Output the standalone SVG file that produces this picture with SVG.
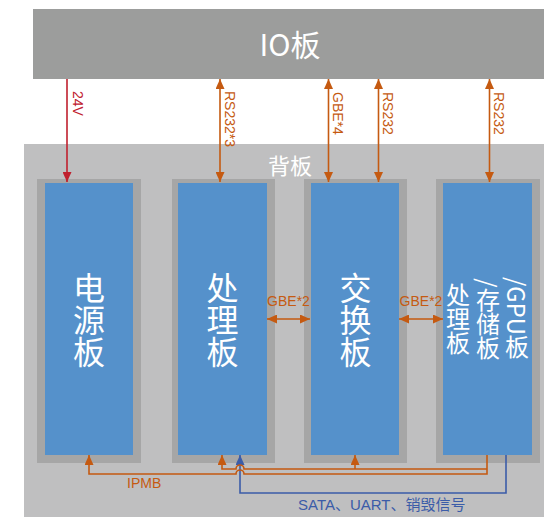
<svg xmlns="http://www.w3.org/2000/svg" width="544" height="520" viewBox="0 0 544 520">
<style>
.io{fill:#9c9d9c}
.bp{fill:#bfbfc0}
.frame{fill:#a6a6a6}
.card{fill:#5591cb}
.big{font-family:"Noto Sans CJK SC","Liberation Sans",sans-serif;fill:#ffffff}
.vt{writing-mode:vertical-rl;text-anchor:middle}
.lbl{font-family:"Liberation Sans","Noto Sans CJK SC",sans-serif;font-size:14px}
.o{stroke:#c55a11;stroke-width:1.6;fill:none}
.r{stroke:#c0202e;stroke-width:1.6;fill:none}
.b{stroke:#3b5ca8;stroke-width:1.6;fill:none}
</style>
<defs>
<marker id="ao" viewBox="0 0 10 9" refX="10" refY="4.5" markerWidth="10" markerHeight="9" markerUnits="userSpaceOnUse" orient="auto-start-reverse"><path d="M0,0 L10,4.5 L0,9 z" fill="#c55a11"/></marker>
<marker id="ar" viewBox="0 0 10 9" refX="10" refY="4.5" markerWidth="10" markerHeight="9" markerUnits="userSpaceOnUse" orient="auto-start-reverse"><path d="M0,0 L10,4.5 L0,9 z" fill="#c0202e"/></marker>
<marker id="ab" viewBox="0 0 10 9" refX="10" refY="4.5" markerWidth="10" markerHeight="9" markerUnits="userSpaceOnUse" orient="auto-start-reverse"><path d="M0,0 L10,4.5 L0,9 z" fill="#3b5ca8"/></marker>
</defs>
<rect width="544" height="520" fill="#ffffff"/>

<g id="io-board">
<rect class="io" x="33" y="9" width="511" height="70"/>
<text class="big" x="290" y="56" font-size="30" text-anchor="middle" font-family="Liberation Sans, Noto Sans CJK SC, sans-serif">IO板</text>
</g>

<g id="backplane">
<rect class="bp" x="24" y="144" width="520" height="373"/>
<text class="big" x="290" y="174" font-size="22" text-anchor="middle">背板</text>
</g>

<g id="power-board">
<rect class="frame" x="37" y="179" width="104" height="284"/>
<rect class="card" x="45" y="183" width="88" height="272"/>
<text class="big vt" x="89" y="320" font-size="32">电源板</text>
</g>

<g id="proc-board">
<rect class="frame" x="172" y="179" width="103" height="284"/>
<rect class="card" x="178" y="183" width="89" height="272"/>
<text class="big vt" x="222.5" y="320" font-size="32">处理板</text>
</g>

<g id="switch-board">
<rect class="frame" x="304" y="179" width="103" height="284"/>
<rect class="card" x="311" y="183" width="88" height="272"/>
<text class="big vt" x="355.5" y="320" font-size="32">交换板</text>
</g>

<g id="gpu-board">
<rect class="frame" x="436" y="179" width="104" height="284"/>
<rect class="card" x="443" y="183" width="89" height="272"/>
<text class="big vt" x="458" y="319" font-size="24">处理板</text>
<text class="big vt" x="488" y="319" font-size="24">/存储板</text>
<text class="big vt" x="517" y="318" font-size="24">/GPU板</text>
</g>

<g id="connectors">
<path class="r" d="M67,79 V182" marker-end="url(#ar)"/>
<path class="o" d="M220,79 V182" marker-start="url(#ao)" marker-end="url(#ao)"/>
<path class="o" d="M328.5,79 V182" marker-start="url(#ao)" marker-end="url(#ao)"/>
<path class="o" d="M378.5,79 V182" marker-start="url(#ao)" marker-end="url(#ao)"/>
<path class="o" d="M489.5,79 V182" marker-start="url(#ao)" marker-end="url(#ao)"/>
<path class="o" d="M267,319 H310" marker-start="url(#ao)" marker-end="url(#ao)"/>
<path class="o" d="M399,319 H443" marker-start="url(#ao)" marker-end="url(#ao)"/>
<path class="b" d="M240,455 V493 H506 V455" marker-start="url(#ab)"/>
<path class="o" d="M89,455 V474 H236 a4,4 0 0 1 8,0 H487 V455" marker-start="url(#ao)"/>
<path class="o" d="M222,455 V469 H236 a4,4 0 0 1 8,0 H487" marker-start="url(#ao)"/>
<path class="o" d="M355,455 V469" marker-start="url(#ao)"/>

<text class="lbl" fill="#c0202e" transform="translate(73,91) rotate(90)">24V</text>
<text class="lbl" fill="#c55a11" transform="translate(225,91) rotate(90)">RS232*3</text>
<text class="lbl" fill="#c55a11" transform="translate(333,92) rotate(90)">GBE*4</text>
<text class="lbl" fill="#c55a11" transform="translate(383,92) rotate(90)">RS232</text>
<text class="lbl" fill="#c55a11" transform="translate(494,92) rotate(90)">RS232</text>
<text class="lbl" fill="#c55a11" x="288.5" y="306" text-anchor="middle">GBE*2</text>
<text class="lbl" fill="#c55a11" x="421" y="306" text-anchor="middle">GBE*2</text>
<text class="lbl" fill="#c55a11" x="127" y="488">IPMB</text>
<text class="lbl" fill="#3b5ca8" x="298" y="510" style="font-size:15px">SATA、UART、销毁信号</text>
</g>
</svg>
